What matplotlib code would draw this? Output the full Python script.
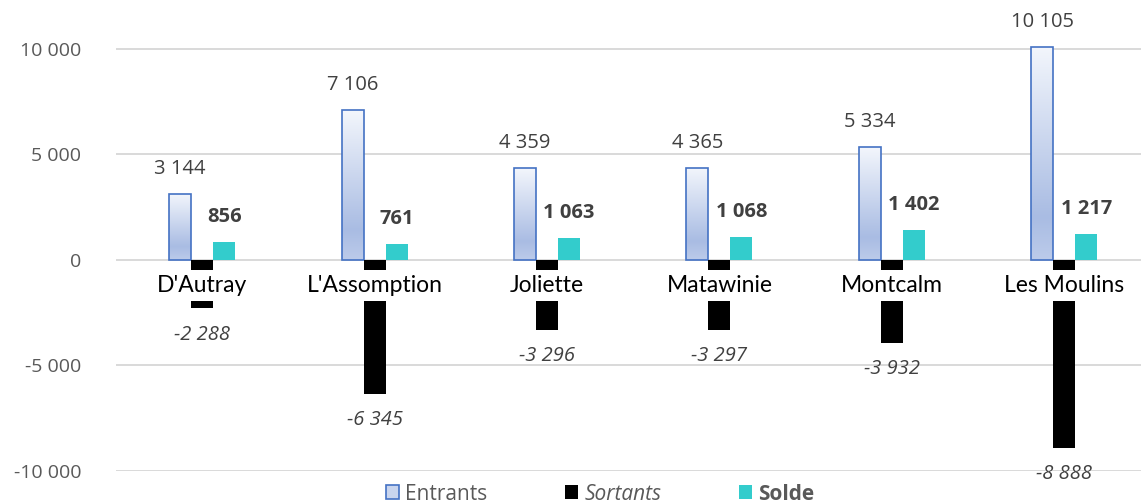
import numpy as np
from matplotlib import pyplot as plt
from matplotlib.colors import LinearSegmentedColormap
from matplotlib.patches import Patch

categories = ["D'Autray", "L'Assomption", "Joliette", "Matawinie", "Montcalm", "Les Moulins"]
entrants = [3144, 7106, 4359, 4365, 5334, 10105]
sortants = [-2288, -6345, -3296, -3297, -3932, -8888]
solde = [856, 761, 1063, 1068, 1402, 1217]
yticks = [-10000, -5000, 0, 5000, 10000]


def fmt(v):
    return '{:,}'.format(v).replace(',', ' ')


W, H = 1141, 504
fig = plt.figure(figsize=(W / 100, H / 100), dpi=100)
ax = fig.add_axes([116 / W, 33 / H, (W - 116) / W, (H - 33) / H])

x = np.arange(len(categories))
bw = 0.1276
grey = '#595959'
num_font = 'Open Sans'

# entrants: gradient bars clipped to the bar outline
grad = LinearSegmentedColormap.from_list(
    'ent', [(0, '#f3f6fc'), (0.8, '#a9bce3'), (1.0, '#bccbea')])
bars = ax.bar(x - bw, entrants, bw, facecolor='none', edgecolor='#4472c4',
              linewidth=1.2, zorder=3)
g = np.linspace(0, 1, 256).reshape(-1, 1)
for b in bars:
    x0, y0 = b.get_x(), b.get_y()
    im = ax.imshow(g, cmap=grad, aspect='auto', zorder=2,
                   extent=[x0, x0 + b.get_width(), y0, y0 + b.get_height()],
                   origin='upper')
    im.set_clip_path(b)

ax.bar(x, sortants, bw, color='black', zorder=3)
ax.bar(x + bw, solde, bw, color='#33cccc', zorder=3)

for i in range(len(categories)):
    ax.annotate(fmt(entrants[i]), (x[i] - bw, entrants[i]), xytext=(0, 18),
                textcoords='offset points', ha='center', va='center',
                fontsize=14.5, color='#404040', family=num_font)
    ax.annotate(fmt(solde[i]), (x[i] + bw, solde[i]), xytext=(0, 18),
                textcoords='offset points', ha='center', va='center',
                fontsize=14.5, color='#404040', family=num_font, fontweight='bold')
    ax.annotate(fmt(sortants[i]), (x[i], sortants[i]), xytext=(0, -19),
                textcoords='offset points', ha='center', va='center',
                fontsize=14.5, color='#404040', family=num_font, style='italic')
    ax.annotate(categories[i], (x[i], 0), xytext=(0, -18.5),
                textcoords='offset points', ha='center', va='center',
                fontsize=16.5, color='black', family='Lato', zorder=5,
                bbox=dict(facecolor='white', edgecolor='none', pad=3.5))

ax.set_xlim(-0.5, -0.5 + (W - 116) / 172.4)
ax.set_ylim(-10000, 12322)
ax.set_yticks(yticks)
ax.set_yticklabels([fmt(v) for v in yticks], family=num_font, fontsize=14, color=grey)
ax.tick_params(axis='y', length=0, pad=25)
ax.set_xticks([])
ax.grid(axis='y', color='#d9d9d9', linewidth=1.4, zorder=0)
ax.set_axisbelow(True)
for s in ax.spines.values():
    s.set_visible(False)

handles = [Patch(facecolor='#c9d5ee', edgecolor='#4472c4', linewidth=1.2),
           Patch(facecolor='black'),
           Patch(facecolor='#33cccc')]
leg = fig.legend(handles, ['Entrants', 'Sortants', 'Solde'], loc='center',
                 bbox_to_anchor=(600 / W, 1 - 494 / H), ncol=3, frameon=False,
                 prop={'family': num_font, 'size': 15}, handlelength=0.65,
                 handleheight=0.65, handletextpad=0.3, columnspacing=3.7)
texts = leg.get_texts()
for t in texts:
    t.set_color(grey)
texts[1].set_style('italic')
texts[2].set_fontweight('bold')

fig.savefig('out.png', dpi=100)
